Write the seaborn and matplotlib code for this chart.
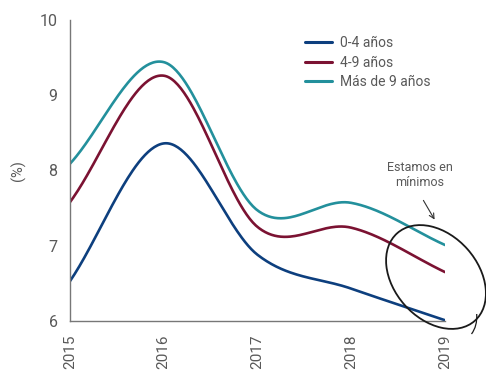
import numpy as np
import pandas as pd
import matplotlib
matplotlib.use("Agg")
import matplotlib.pyplot as plt
import seaborn as sns
from matplotlib.patches import Ellipse, PathPatch
from matplotlib.path import Path
from matplotlib.transforms import Affine2D

# Yearly rates (%) by maturity bucket
years = [2015, 2016, 2017, 2018, 2019]
tramo_0_4 = [6.53, 8.36, 6.88, 6.43, 6.01]
tramo_4_9 = [7.58, 9.26, 7.25, 7.24, 6.65]
tramo_mas_9 = [8.09, 9.44, 7.47, 7.57, 7.01]
series_labels = ["0-4 años", "4-9 años", "Más de 9 años"]
colors = ["#0d3f7e", "#7b1232", "#23909c"]
y_ticks = [6, 7, 8, 9, 10]


def smooth_line(x, y, n=60):
    """Catmull-Rom (cubic Hermite) curve through every (x, y) point."""
    x = np.asarray(x, float)
    y = np.asarray(y, float)
    k = len(x)
    m = np.empty(k)
    m[1:-1] = (y[2:] - y[:-2]) / (x[2:] - x[:-2])
    m[0] = (y[1] - y[0]) / (x[1] - x[0])
    m[-1] = (y[-1] - y[-2]) / (x[-1] - x[-2])
    xs_all, ys_all = [], []
    for i in range(k - 1):
        h = x[i + 1] - x[i]
        t = np.linspace(0, 1, n, endpoint=(i == k - 2))
        h00 = 2 * t**3 - 3 * t**2 + 1
        h10 = t**3 - 2 * t**2 + t
        h01 = -2 * t**3 + 3 * t**2
        h11 = t**3 - t**2
        xs_all.append(x[i] + t * h)
        ys_all.append(h00 * y[i] + h10 * h * m[i] + h01 * y[i + 1] + h11 * h * m[i + 1])
    return np.concatenate(xs_all), np.concatenate(ys_all)


sns.set_theme(style="white")
plt.rcParams["font.family"] = ["Roboto", "DejaVu Sans"]
text_color = "#595959"
text_weight = "normal"

frames = []
for label, vals in zip(series_labels, [tramo_0_4, tramo_4_9, tramo_mas_9]):
    xs, ys = smooth_line(years, vals)
    frames.append(pd.DataFrame({"year": xs, "value": ys, "serie": label}))
df = pd.concat(frames, ignore_index=True)

fig = plt.figure(figsize=(4.86, 3.71), dpi=100)
ax = fig.add_axes([70 / 486, 1 - 321 / 371, (445 - 70) / 486, (321 - 20) / 371])

sns.lineplot(data=df, x="year", y="value", hue="serie", hue_order=series_labels,
             palette=colors, linewidth=1.9, ax=ax, sort=False)

ax.set_xlim(2015, 2019)
ax.set_ylim(6, 10)
ax.set_xticks(years)
ax.set_xticklabels([str(y) for y in years], rotation=90, fontsize=11,
                   color=text_color, fontweight=text_weight)
ax.set_yticks(y_ticks)
ax.set_yticklabels([str(v) for v in y_ticks], fontsize=11.5, color=text_color,
                   fontweight=text_weight)
ax.tick_params(axis="both", length=0)
ax.tick_params(axis="x", pad=10)
ax.tick_params(axis="y", pad=9)
ax.set_xlabel("")
ax.set_ylabel("(%)", fontsize=10.5, color=text_color, fontweight=text_weight, labelpad=10)
for side in ["top", "right"]:
    ax.spines[side].set_visible(False)
for side in ["left", "bottom"]:
    ax.spines[side].set_color("#777777")
    ax.spines[side].set_linewidth(1.0)

leg = ax.legend(loc="upper left", bbox_to_anchor=(305 / 486, 1 - 36 / 371),
                bbox_transform=fig.transFigure, frameon=False, fontsize=10,
                handlelength=1.95, handletextpad=0.6, labelspacing=0.4,
                borderpad=0, borderaxespad=0)
for line in leg.get_lines():
    line.set_linewidth(2.2)
for t in leg.get_texts():
    t.set_color(text_color)
    t.set_fontweight(text_weight)

# Callout: hand-drawn ring around the latest values, with note and arrow
px = Affine2D().scale(1, -1).translate(0, 371) + fig.dpi_scale_trans.frozen().inverted() + fig.dpi_scale_trans
ring = Ellipse((436, 277), 117, 84, angle=48.5, fill=False, edgecolor="#1a1a1a",
               linewidth=1.3, transform=px, clip_on=False)
fig.add_artist(ring)
tail_path = Path([(471.5, 334), (477.5, 326), (476.7, 314)],
                 [Path.MOVETO, Path.CURVE3, Path.CURVE3])
fig.add_artist(PathPatch(tail_path, fill=False, edgecolor="#1a1a1a", linewidth=0.9,
                         transform=px, clip_on=False))

fig.text(420 / 486, 1 - 175 / 371, "Estamos en\nmínimos", ha="center", va="center",
         fontsize=9, color=text_color, fontweight=text_weight, linespacing=1.25)
ax.annotate("", xy=(436 / 486, 1 - 222 / 371), xytext=(422 / 486, 1 - 198 / 371),
            xycoords="figure fraction", textcoords="figure fraction",
            arrowprops=dict(arrowstyle="->", color="#333333", lw=0.8,
                            mutation_scale=9))

fig.savefig("out.png", dpi=100)
